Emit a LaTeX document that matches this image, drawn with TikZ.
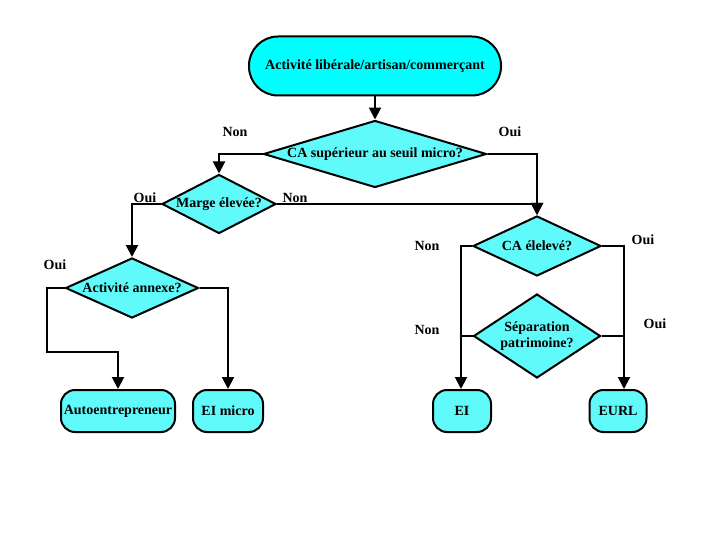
\documentclass[tikz,border=0pt]{standalone}
\usepackage{fontspec}
\setmainfont{Liberation Serif}
\usetikzlibrary{shapes.geometric,arrows.meta}
\definecolor{cyanvif}{RGB}{0,255,255}
\definecolor{cyanpale}{RGB}{96,250,250}

\begin{document}
\begin{tikzpicture}[x=1pt, y=-1pt,
        font=\fontsize{14}{16}\selectfont\bfseries,
        line width=2pt,
        fleche/.style={-{Triangle[length=12pt,width=12pt]}},
        question/.style={diamond, draw, fill=cyanpale, inner sep=0pt},
        fin/.style={rectangle, draw, fill=cyanpale, rounded corners=14pt, minimum height=42pt, inner sep=0pt},
        rep/.style={inner sep=0pt}]
    	\useasboundingbox (0,0) rectangle (720,540);

    	\node (debut)[rectangle, draw, fill = cyanvif, rounded corners=29pt, minimum width=252pt, minimum height=59pt] at (375,66) {Activité libérale/artisan/commerçant};

    	\node (seuil)[question, minimum width=223pt, minimum height=67pt] at (375,154) {\makebox[0pt]{CA supérieur au seuil micro?}};
    	\node (marge)[question, minimum width=114pt, minimum height=59pt] at (219,204) {\makebox[0pt]{Marge élevée?}};
    	\node (annexe)[question, minimum width=133pt, minimum height=60pt] at (132,288) {\makebox[0pt]{Activité annexe?}};
    	\node (ca)[question, minimum width=128pt, minimum height=60pt] at (537,246) {\makebox[0pt]{CA élelevé?}};
    	\node (separ)[question, minimum width=127pt, minimum height=84pt] at (537,336) {\makebox[0pt]{\begin{tabular}{@{}c@{}}Séparation\\patrimoine?\end{tabular}}};

    	\node (auto)[fin, minimum width=114pt] at (118,411) {Autoentrepreneur};
    	\node (eimicro)[fin, minimum width=70pt] at (228,411) {EI micro};
    	\node (ei)[fin, minimum width=58pt] at (462,411) {EI};
    	\node (eurl)[fin, minimum width=57pt] at (618,411) {EURL};

    	\coordinate (entree ei) at ([xshift=-1pt]ei.north);
    	\coordinate (entree eurl) at ([xshift=6pt]eurl.north);

    	\node (non1)[rep] at (235,132) {Non};
    	\node (oui1)[rep] at (510,132) {Oui};
    	\node (oui2)[rep] at (145,198) {Oui};
    	\node (non2)[rep] at (295,198) {Non};
    	\node (oui3)[rep] at (55,265) {Oui};
    	\node (non3)[rep] at (427,246) {Non};
    	\node (oui4)[rep] at (643,240) {Oui};
    	\node (non4)[rep] at (427,330) {Non};
    	\node (oui5)[rep] at (655,324) {Oui};

    	\draw[fleche] (debut) -- (seuil);
    	\draw[fleche] (seuil.west) -| (marge.north);
    	\draw[fleche] (seuil.east) -| (ca.north);
    	\draw[fleche] (marge.east) -| (ca.north);
    	\draw[fleche] (marge.west) -| (annexe.north);
    	\draw[fleche] (annexe.west) -| ++(-18,64) -| (auto.north);
    	\draw[fleche] (annexe.east) -| (eimicro.north);
    	\draw[fleche] (ca.west) -| (entree ei);
    	\draw (separ.west) -- (separ.west -| entree ei);
    	\draw[fleche] (ca.east) -| (entree eurl);
    	\draw (separ.east) -- (separ.east -| entree eurl);

\end{tikzpicture}
\end{document}
